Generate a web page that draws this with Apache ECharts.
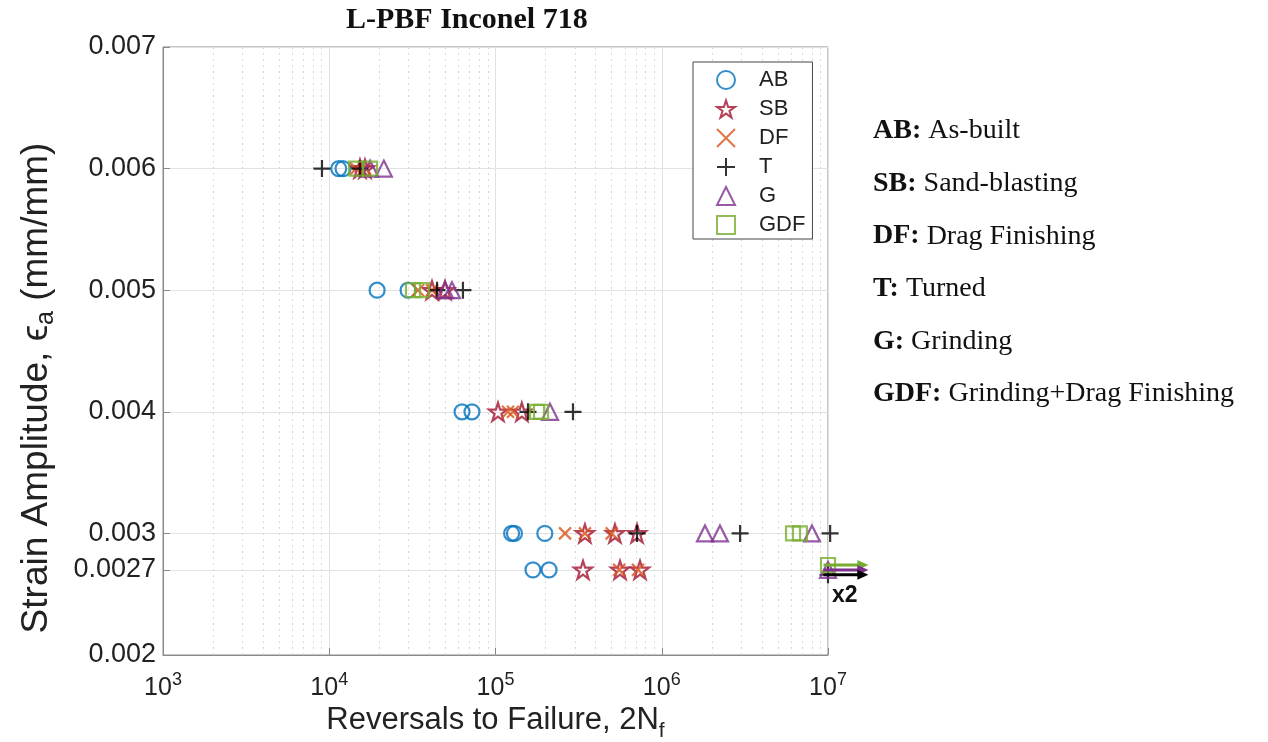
<!DOCTYPE html>
<html>
<head>
<meta charset="utf-8">
<script src="https://cdn.jsdelivr.net/npm/echarts@6/dist/echarts.min.js"></script>
<style>
  html, body { margin: 0; padding: 0; background: #fff; }
  #chart { width: 1268px; height: 742px; }
</style>
</head>
<body>
<div id="chart"></div>
<script>
// strain levels shown on the y axis
const yTickValues = [0.002, 0.0027, 0.003, 0.004, 0.005, 0.006, 0.007]
const minorGridX = [2e3, 3e3, 4e3, 5e3, 6e3, 7e3, 8e3, 9e3,
  2e4, 3e4, 4e4, 5e4, 6e4, 7e4, 8e4, 9e4,
  2e5, 3e5, 4e5, 5e5, 6e5, 7e5, 8e5, 9e5,
  2e6, 3e6, 4e6, 5e6, 6e6, 7e6, 8e6, 9e6]

// [reversals to failure, strain amplitude]
const abData = [[11400, 0.006], [12100, 0.006], [19400, 0.005], [29800, 0.005],
  [62900, 0.004], [72200, 0.004], [125000, 0.003], [130000, 0.003], [198000, 0.003],
  [168000, 0.0027], [210000, 0.0027]]
const sbData = [[15300, 0.006], [16400, 0.006], [41500, 0.005], [49700, 0.005],
  [103500, 0.004], [144000, 0.004], [345000, 0.003], [523000, 0.003], [710000, 0.003],
  [336000, 0.0027], [561000, 0.0027], [740000, 0.0027]]
const dfData = [[14500, 0.006], [16400, 0.006], [34200, 0.005], [41500, 0.005],
  [118900, 0.004], [127400, 0.004], [262000, 0.003], [345000, 0.003], [500000, 0.003],
  [555000, 0.0027], [720000, 0.0027]]
const tData = [[9040, 0.006], [15300, 0.006], [44500, 0.005], [63700, 0.005],
  [156900, 0.004], [292500, 0.004], [710000, 0.003], [2960000, 0.003], [10300000, 0.003],
  [10000000, 0.00266]]
const gData = [[17600, 0.006], [21300, 0.006], [49700, 0.005], [54700, 0.005],
  [212700, 0.004], [1820000, 0.003], [2240000, 0.003], [8010000, 0.003],
  [10000000, 0.0027]]
const gdfData = [[14500, 0.006], [17600, 0.006], [31900, 0.005], [36100, 0.005],
  [177700, 0.004], [187800, 0.004], [6160000, 0.003], [6780000, 0.003],
  [10000000, 0.00274]]

// run-outs (tests stopped at 1e7, drawn as arrows)
const runoutFrom = 9.4e6
const runoutTo = 1.75e7
const runoutNames = ['GDF', 'G', 'T']
const runoutStrain = [0.00274, 0.0027, 0.00266]

const annotKeys = ['AB:', 'SB:', 'DF:', 'T:', 'G:', 'GDF:']
const annotText = ['As-built', 'Sand-blasting', 'Drag Finishing', 'Turned', 'Grinding', 'Grinding+Drag Finishing']

const colors = {
  AB: '#0072BD', SB: '#A2142F', DF: '#D95319', T: '#000000', G: '#7E2F8E', GDF: '#77AC30',
}
const starPath = 'path://M50,2 L61,36 L97,36 L68,57 L79,92 L50,71 L21,92 L32,57 L3,36 L39,36 Z'

function markerSeries(name, data, symbol, size) {
  return {
    name: name,
    type: 'scatter',
    data: data,
    symbol: symbol,
    symbolSize: size,
    clip: false,
    z: 3,
    itemStyle: {
      color: 'transparent',
      borderColor: colors[name],
      borderWidth: 2.2,
    },
  }
}

const chart = echarts.init(document.getElementById('chart'))

const series = [
  markerSeries('AB', abData, 'circle', 15),
  markerSeries('SB', sbData, starPath, 18),
  markerSeries('DF', dfData, 'path://M0,0L10,10M10,0L0,10', 12),
  markerSeries('T', tData, 'path://M5,0L5,10M0,5L10,5', 17),
  markerSeries('G', gData, 'triangle', 16),
  markerSeries('GDF', gdfData, 'rect', 14),
]

// minor grid lines
series[0].markLine = {
  silent: true,
  symbol: 'none',
  label: { show: false },
  z: 1,
  lineStyle: { color: '#d9d9d9', type: [2, 4], width: 1 },
  data: minorGridX.map(v => ({ xAxis: v })),
}

// run-out arrows
series.push({
  type: 'custom',
  clip: false,
  silent: true,
  z: 4,
  data: runoutStrain.map((y, i) => [runoutFrom, y, runoutTo, i]),
  encode: { x: 0, y: 1 },
  renderItem: (params, api) => {
    const p0 = api.coord([api.value(0), api.value(1)])
    const p1 = api.coord([api.value(2), api.value(1)])
    const c = colors[runoutNames[api.value(3)]]
    return {
      type: 'group',
      children: [{
        type: 'line',
        shape: { x1: p0[0], y1: p0[1], x2: p1[0] - 8, y2: p1[1] },
        style: { stroke: c, lineWidth: 3 },
      }, {
        type: 'polygon',
        shape: { points: [[p1[0], p1[1]], [p1[0] - 11, p1[1] - 5], [p1[0] - 11, p1[1] + 5]] },
        style: { fill: c },
      }],
    }
  },
})

const graphics = annotKeys.map((k, i) => ({
  type: 'text',
  left: 873,
  top: 117 + i * 52.6,
  style: {
    text: '{b|' + k + '} ' + annotText[i],
    font: '28px "Liberation Serif"',
    fill: '#111',
    rich: {
      b: { fontWeight: 'bold', fontSize: 28, fontFamily: 'Liberation Serif', fill: '#111' },
    },
  },
}))
graphics.push({
  type: 'text',
  left: 832,
  top: 584,
  style: { text: 'x2', font: 'bold 23px "Liberation Sans"', fill: '#111' },
})

const option = {
  animation: false,
  textStyle: { fontFamily: 'Liberation Sans' },
  title: {
    text: 'L-PBF Inconel 718',
    left: 341,
    top: 0,
    textStyle: { fontFamily: 'Liberation Serif', fontWeight: 'bold', fontSize: 30, color: '#111' },
  },
  grid: {
    left: 163,
    right: 440,
    top: 47,
    bottom: 87,
    outerBoundsMode: 'none',
    show: true,
    borderColor: '#8a8a8a',
    borderWidth: 1,
  },
  legend: {
    orient: 'vertical',
    left: 693,
    top: 62,
    padding: [7, 7, 3, 23],
    itemGap: 7,
    itemWidth: 18,
    itemHeight: 18,
    backgroundColor: '#fff',
    borderColor: '#444',
    borderWidth: 1,
    textStyle: { fontSize: 22, color: '#222', padding: [0, 0, 0, 19] },
    data: ['AB', 'SB', 'DF', 'T', 'G', 'GDF'],
  },
  xAxis: {
    type: 'log',
    logBase: 10,
    min: 1e3,
    max: 1e7,
    name: 'Reversals to Failure, 2N{sub|f}',
    nameLocation: 'middle',
    nameGap: 44,
    nameTextStyle: {
      fontSize: 31,
      color: '#222',
      rich: { sub: { fontSize: 21, padding: [20, 0, 0, 0], color: '#222' } },
    },
    axisLine: { show: true, lineStyle: { color: '#8a8a8a' } },
    axisTick: { show: true, inside: true, length: 7, lineStyle: { color: '#8a8a8a' } },
    splitLine: { show: true, lineStyle: { color: '#e2e2e2', width: 1 } },
    axisLabel: {
      margin: 16,
      color: '#222',
      fontSize: 25,
      formatter: v => '10{sup|' + Math.round(Math.log10(v)) + '}',
      rich: { sup: { fontSize: 18, padding: [0, 0, 16, 0], color: '#222' } },
    },
  },
  yAxis: {
    type: 'value',
    min: 0.002,
    max: 0.007,
    interval: 0.001,
    name: 'Strain Amplitude, \u03f5{sub|a} (mm/mm)',
    nameLocation: 'middle',
    nameGap: 104,
    nameTextStyle: {
      fontSize: 37,
      color: '#222',
      padding: [0, 74, 0, 0],
      rich: { sub: { fontSize: 25, padding: [20, 0, 0, 0], color: '#222' } },
    },
    axisLine: { show: true, lineStyle: { color: '#8a8a8a' } },
    axisTick: { show: true, inside: true, length: 7, customValues: yTickValues, lineStyle: { color: '#8a8a8a' } },
    splitLine: { show: true, lineStyle: { color: '#e2e2e2', width: 1 } },
    axisLabel: {
      margin: 7,
      color: '#222',
      fontSize: 27,
      customValues: yTickValues,
      formatter: v => String(+v.toFixed(4)),
    },
  },
  graphic: graphics,
  series: series,
}

chart.setOption(option)
</script>
</body>
</html>
